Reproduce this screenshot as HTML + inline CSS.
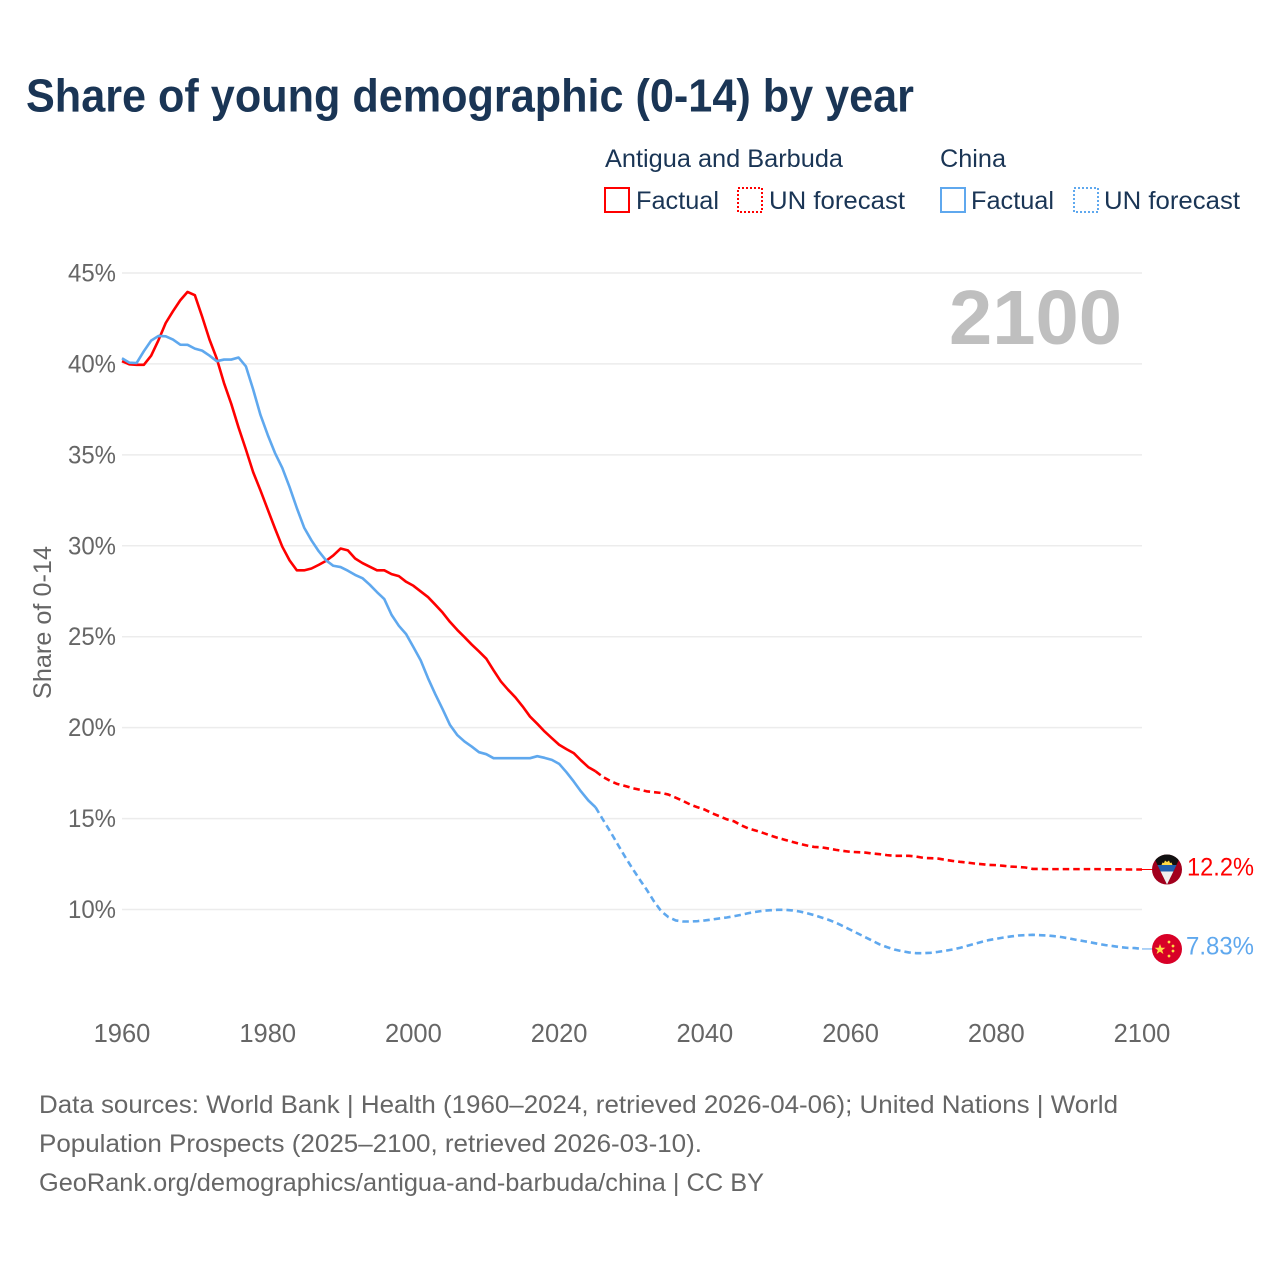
<!DOCTYPE html>
<html lang="en">
<head>
<meta charset="utf-8">
<title>Share of young demographic (0-14) by year</title>
<style>
html,body{margin:0;padding:0;background:#fff;}
svg{display:block;font-family:"Liberation Sans",sans-serif;}
</style>
</head>
<body>
<svg id="chart" xmlns="http://www.w3.org/2000/svg" width="1280" height="1280" viewBox="0 0 1280 1280">
  <defs>
    <clipPath id="flag-clip-a"><circle cx="0" cy="0" r="15"/></clipPath>
  </defs>
  <rect x="0" y="0" width="1280" height="1280" fill="#ffffff"/>
  <text x="26" y="111.5" font-size="46" font-weight="700" fill="#1a3555" textLength="888" lengthAdjust="spacingAndGlyphs">Share of young demographic (0-14) by year</text>

  <g font-size="25" fill="#1a3555">
    <text x="605" y="167" textLength="238" lengthAdjust="spacingAndGlyphs">Antigua and Barbuda</text>
    <text x="940" y="167" textLength="66" lengthAdjust="spacingAndGlyphs">China</text>
    <g>
      <rect x="605" y="188" width="24" height="24" fill="none" stroke="#ff0000" stroke-width="2"/>
      <text x="636" y="209" textLength="83" lengthAdjust="spacingAndGlyphs">Factual</text>
    </g>
    <g>
      <rect x="738" y="188" width="24" height="24" fill="none" stroke="#ff0000" stroke-width="2" stroke-dasharray="2 2"/>
      <text x="769" y="209" textLength="136" lengthAdjust="spacingAndGlyphs">UN forecast</text>
    </g>
    <g>
      <rect x="941" y="188" width="24" height="24" fill="none" stroke="#5fa8ee" stroke-width="2"/>
      <text x="971" y="209" textLength="83" lengthAdjust="spacingAndGlyphs">Factual</text>
    </g>
    <g>
      <rect x="1074" y="188" width="24" height="24" fill="none" stroke="#5fa8ee" stroke-width="2" stroke-dasharray="2 2"/>
      <text x="1104" y="209" textLength="136" lengthAdjust="spacingAndGlyphs">UN forecast</text>
    </g>
  </g>

  <g id="grid"></g>
  <g id="y-axis"></g>
  <g id="x-axis"></g>
  <text transform="translate(51,699) rotate(-90)" font-size="25" fill="#666666" textLength="153" lengthAdjust="spacingAndGlyphs">Share of 0-14</text>
  <text x="949" y="344" font-size="77" font-weight="700" fill="#bfbfbf" textLength="173" lengthAdjust="spacingAndGlyphs">2100</text>

  <g id="series"></g>

  <g id="flag-antigua">
    <g clip-path="url(#flag-clip-a)">
      <rect x="-16" y="-16" width="32" height="32" fill="#a2001d"/>
      <polygon points="-15,-16 15,-16 0,15" fill="#111111"/>
      <polygon points="-5.5,-4.5 -4.5,-7 -3,-6.5 -2,-9 0,-7.5 2,-9 3,-6.5 4.5,-7 5.5,-4.5" fill="#ffda44"/>
      <polygon points="-9.5,-4.5 9.5,-4.5 6.4,2 -6.4,2" fill="#1f5fae"/>
      <polygon points="-6.4,2 6.4,2 0,15" fill="#f0f0f0"/>
    </g>
  </g>
  <g id="flag-china">
    <circle cx="0" cy="0" r="15" fill="#d80027"/>
    <polygon points="-7,-5 -5.6,-1.2 -1.6,-1.2 -4.8,1.2 -3.6,5 -7,2.7 -10.4,5 -9.2,1.2 -12.4,-1.2 -8.4,-1.2" fill="#ffda44"/>
    <circle cx="2" cy="-7" r="1.4" fill="#ffda44"/>
    <circle cx="6" cy="-3" r="1.4" fill="#ffda44"/>
    <circle cx="6" cy="2" r="1.4" fill="#ffda44"/>
    <circle cx="2" cy="7" r="1.4" fill="#ffda44"/>
  </g>
  <text id="label-antigua" x="1187" font-size="25" fill="#ff0000" textLength="67" lengthAdjust="spacingAndGlyphs"></text>
  <text id="label-china" x="1186" font-size="25" fill="#5fa8ee" textLength="68" lengthAdjust="spacingAndGlyphs"></text>

  <g font-size="25" fill="#666666">
    <text x="39" y="1113" textLength="1079" lengthAdjust="spacingAndGlyphs">Data sources: World Bank | Health (1960–2024, retrieved 2026-04-06); United Nations | World</text>
    <text x="39" y="1152" textLength="663" lengthAdjust="spacingAndGlyphs">Population Prospects (2025–2100, retrieved 2026-03-10).</text>
    <text x="39" y="1191" textLength="725" lengthAdjust="spacingAndGlyphs">GeoRank.org/demographics/antigua-and-barbuda/china | CC BY</text>
  </g>
</svg>
<script>
const yTicks = [45, 40, 35, 30, 25, 20, 15, 10];
const yTickLabels = ["45%", "40%", "35%", "30%", "25%", "20%", "15%", "10%"];
const xTicks = [1960, 1980, 2000, 2020, 2040, 2060, 2080, 2100];
const xTickLabels = ["1960", "1980", "2000", "2020", "2040", "2060", "2080", "2100"];
const factualStartYear = 1960;
const forecastStartYear = 2025;
const antiguaFactual = [40.15,39.98,39.95,39.95,40.45,41.3,42.25,42.9,43.5,43.96,43.78,42.6,41.35,40.3,38.95,37.8,36.5,35.3,34.05,33.05,32.0,30.95,29.95,29.2,28.65,28.65,28.75,28.95,29.17,29.47,29.85,29.75,29.3,29.05,28.85,28.65,28.65,28.44,28.33,28.02,27.8,27.49,27.18,26.76,26.33,25.82,25.38,24.98,24.57,24.19,23.79,23.15,22.54,22.08,21.66,21.16,20.61,20.21,19.79,19.42,19.06,18.82,18.6,18.2,17.83,17.6];
const antiguaForecast = [17.6,17.29,17.07,16.9,16.8,16.68,16.59,16.5,16.45,16.41,16.32,16.15,15.97,15.77,15.62,15.49,15.29,15.13,14.96,14.85,14.63,14.45,14.34,14.21,14.07,13.94,13.83,13.72,13.61,13.52,13.44,13.42,13.35,13.28,13.22,13.17,13.15,13.13,13.08,13.04,12.99,12.95,12.95,12.95,12.91,12.84,12.82,12.8,12.73,12.67,12.62,12.58,12.53,12.49,12.45,12.44,12.4,12.36,12.34,12.31,12.23,12.23,12.22,12.22,12.22,12.22,12.22,12.22,12.22,12.22,12.21,12.21,12.21,12.2,12.2,12.2];
const chinaFactual = [40.31,40.07,40.05,40.7,41.28,41.54,41.52,41.34,41.06,41.05,40.84,40.73,40.46,40.15,40.24,40.24,40.35,39.87,38.6,37.2,36.1,35.1,34.28,33.23,32.07,31.0,30.3,29.7,29.2,28.9,28.83,28.63,28.4,28.22,27.86,27.45,27.07,26.2,25.6,25.14,24.43,23.7,22.72,21.84,21.02,20.16,19.6,19.24,18.96,18.65,18.54,18.32,18.32,18.32,18.32,18.32,18.32,18.43,18.34,18.23,18.01,17.55,17.04,16.49,16.0,15.62];
const chinaForecast = [15.62,14.95,14.3,13.61,12.93,12.29,11.68,11.1,10.46,9.91,9.58,9.4,9.34,9.34,9.36,9.4,9.45,9.51,9.56,9.63,9.71,9.8,9.87,9.93,9.96,9.98,9.98,9.95,9.89,9.8,9.69,9.56,9.43,9.27,9.08,8.88,8.68,8.48,8.28,8.08,7.93,7.8,7.71,7.64,7.6,7.6,7.62,7.67,7.73,7.8,7.89,8.0,8.11,8.22,8.32,8.39,8.46,8.52,8.57,8.59,8.61,8.59,8.57,8.53,8.48,8.41,8.33,8.26,8.19,8.11,8.04,7.99,7.93,7.89,7.88,7.83];
const antiguaEndLabel = "12.2%";
const chinaEndLabel = "7.83%";

const NS = "http://www.w3.org/2000/svg";
const plotLeft = 122;
const plotRight = 1142;
function xScale(year) { return plotLeft + (year - 1960) * (plotRight - plotLeft) / 140; }
function yScale(value) { return 909.5 - (value - 10) * 18.186; }
function make(tag, parentId) {
  const el = document.createElementNS(NS, tag);
  document.getElementById(parentId).appendChild(el);
  return el;
}
yTicks.forEach(function (tick, i) {
  const line = make("line", "grid");
  
  
  line.setAttribute("x1", plotLeft);
  line.setAttribute("x2", plotRight);
  line.setAttribute("y1", yScale(tick));
  line.setAttribute("y2", yScale(tick));
  line.setAttribute("stroke", "#ececec");
  line.setAttribute("stroke-width", "1.5");
  const label = make("text", "y-axis");
  
  
  label.setAttribute("x", 116);
  label.setAttribute("y", yScale(tick) + 8.5);
  label.setAttribute("text-anchor", "end");
  label.setAttribute("font-size", "25");
  label.setAttribute("fill", "#666666");
  label.setAttribute("textLength", "48");
  label.setAttribute("lengthAdjust", "spacingAndGlyphs");
  label.textContent = yTickLabels[i];
});
xTicks.forEach(function (tick, i) {
  const label = make("text", "x-axis");
  
  
  label.setAttribute("x", xScale(tick));
  label.setAttribute("y", 1042);
  label.setAttribute("text-anchor", "middle");
  label.setAttribute("font-size", "25.5");
  label.setAttribute("fill", "#666666");
  label.textContent = xTickLabels[i];
});
function pathFor(values, startYear) {
  return values.map(function (v, i) {
    return (i ? "L" : "M") + xScale(startYear + i).toFixed(2) + " " + yScale(v).toFixed(2);
  }).join(" ");
}
function drawSeries(values, startYear, color, dashed) {
  const p = make("path", "series");
  p.setAttribute("d", pathFor(values, startYear));
  p.setAttribute("fill", "none");
  p.setAttribute("stroke", color);
  p.setAttribute("stroke-width", "2.6");
  p.setAttribute("stroke-linejoin", "round");
  if (dashed) { p.setAttribute("stroke-dasharray", "6.5 4"); }
  return p;
}
const antiguaFactualLine = drawSeries(antiguaFactual, factualStartYear, "#ff0000", false);


const antiguaForecastLine = drawSeries(antiguaForecast, forecastStartYear, "#ff0000", true);


const chinaFactualLine = drawSeries(chinaFactual, factualStartYear, "#5fa8ee", false);


const chinaForecastLine = drawSeries(chinaForecast, forecastStartYear, "#5fa8ee", true);



function drawConnector(values, color) {
  const c = make("line", "series");
  const yEnd = yScale(values[values.length - 1]);
  c.setAttribute("x1", plotRight);
  c.setAttribute("x2", 1153);
  c.setAttribute("y1", yEnd);
  c.setAttribute("y2", yEnd);
  c.setAttribute("stroke", color);
  c.setAttribute("stroke-width", "1");
  return c;
}
const antiguaConnector = drawConnector(antiguaForecast, "#ff0000");


const chinaConnector = drawConnector(chinaForecast, "#5fa8ee");



const antiguaEndY = yScale(antiguaForecast[antiguaForecast.length - 1]);
const chinaEndY = yScale(chinaForecast[chinaForecast.length - 1]);
document.getElementById("flag-antigua").setAttribute("transform", "translate(1167," + antiguaEndY + ")");
document.getElementById("flag-china").setAttribute("transform", "translate(1167," + chinaEndY + ")");
const antiguaLabel = document.getElementById("label-antigua");
antiguaLabel.setAttribute("y", antiguaEndY + 6);
antiguaLabel.textContent = antiguaEndLabel;
const chinaLabel = document.getElementById("label-china");
chinaLabel.setAttribute("y", chinaEndY + 5.5);
chinaLabel.textContent = chinaEndLabel;
</script>
</body>
</html>
